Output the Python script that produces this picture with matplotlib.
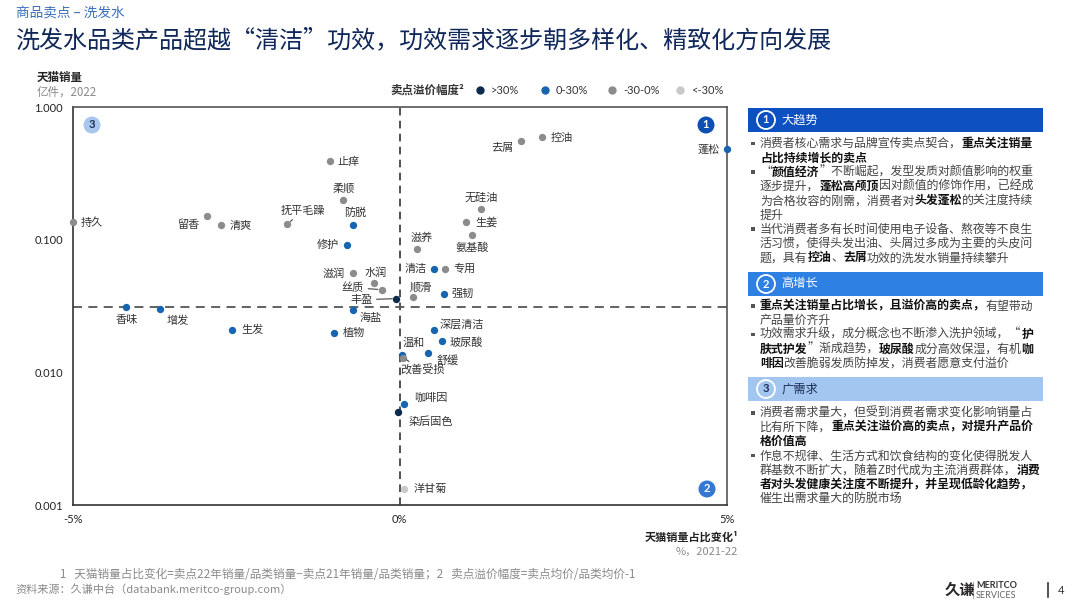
import matplotlib
matplotlib.use('Agg')
import matplotlib.pyplot as plt
import matplotlib.lines as mlines
from matplotlib.patches import Rectangle, Ellipse
from matplotlib.ticker import FixedLocator, FixedFormatter, NullLocator

plt.rcParams['font.family'] = ['Noto Sans CJK SC', 'DejaVu Sans']

# 卖点数据：天猫销量占比变化(%)、天猫销量(亿件, 2022)、溢价幅度分组
names = ['持久', '留香', '清爽', '抚平毛躁', '止痒', '柔顺', '防脱', '修护', '滋润', '水润',
         '丝质', '丰盈', '香味', '增发', '生发', '植物', '海盐', '顺滑', '强韧', '深层清洁',
         '玻尿酸', '舒缓', '温和', '改善受损', '咖啡因', '染后固色', '洋甘菊', '去屑', '控油',
         '蓬松', '无硅油', '生姜', '氨基酸', '滋养', '清洁', '专用']
share_change = [-5.0, -2.94, -2.73, -1.72, -1.07, -0.86, -0.71, -0.80, -0.71, -0.39,
                -0.27, -0.05, -4.18, -3.66, -2.56, -1.00, -0.71, 0.21, 0.67, 0.52,
                0.64, 0.43, 0.03, 0.05, 0.07, -0.02, 0.07, 1.85, 2.18,
                5.0, 1.25, 1.02, 1.11, 0.27, 0.52, 0.70]
sales = [0.136, 0.152, 0.130, 0.132, 0.394, 0.200, 0.130, 0.0917, 0.0564, 0.0471,
         0.0422, 0.0361, 0.0314, 0.0300, 0.0209, 0.0198, 0.0297, 0.0370, 0.0394, 0.0208,
         0.0172, 0.0141, 0.0136, 0.0130, 0.00577, 0.00505, 0.00133, 0.560, 0.600,
         0.485, 0.170, 0.137, 0.109, 0.0855, 0.0607, 0.0607]
# 0: >30%, 1: 0-30%, 2: -30-0%, 3: <-30%
premium_group = [2, 2, 2, 2, 2, 2, 1, 1, 2, 2,
                 2, 0, 1, 1, 1, 1, 1, 2, 1, 1,
                 1, 1, 1, 2, 1, 0, 3, 2, 2,
                 1, 2, 2, 2, 2, 1, 2]
group_labels = ['>30%', '0-30%', '-30-0%', '<-30%']
group_colors = ['#0c2a4d', '#1764b0', '#8c8c8c', '#c8c8c8']

h_line = 0.0314  # 水平参考线

x_ticks = [-5, 0, 5]
x_tick_labels = ['-5%', '0%', '5%']
y_ticks = [0.001, 0.01, 0.1, 1.0]
y_tick_labels = ['0.001', '0.010', '0.100', '1.000']

# 标签偏移 (像素) 和对齐方式，带引线的标签
label_pos = {
    '持久': (8, 0, 'left'), '留香': (-8, -9, 'right'), '清爽': (8, -1, 'left'),
    '抚平毛躁': (16, 13, 'center'), '止痒': (8, -1, 'left'), '柔顺': (0, 12, 'center'),
    '防脱': (2, 12, 'center'), '修护': (-8, 0, 'right'), '滋润': (-8, -1, 'right'),
    '水润': (2, 11, 'center'), '丝质': (-18, 2, 'right'), '丰盈': (-24, -1, 'right'),
    '香味': (0, -13, 'center'), '增发': (17, -11, 'center'), '生发': (9, 0, 'left'),
    '植物': (8, 0, 'left'), '海盐': (17, -8, 'center'), '顺滑': (7, 10, 'center'),
    '强韧': (8, 0, 'left'), '深层清洁': (6, 6, 'left'), '玻尿酸': (8, -1, 'left'),
    '舒缓': (9, -7, 'left'), '温和': (12, 12, 'center'), '改善受损': (20, -13, 'center'),
    '咖啡因': (10, 7, 'left'), '染后固色': (10, -10, 'left'), '洋甘菊': (9, 0, 'left'),
    '去屑': (-7, -7, 'right'), '控油': (8, -1, 'left'), '蓬松': (-7, -1, 'right'),
    '无硅油': (0, 12, 'center'), '生姜': (9, -1, 'left'), '氨基酸': (0, -13, 'center'),
    '滋养': (4, 11, 'center'), '清洁': (-7, 0, 'right'), '专用': (8, 0, 'left'),
}
leader = ['抚平毛躁', '丝质', '丰盈', '改善受损']

W, H = 1080, 607
fig = plt.figure(figsize=(W / 100, H / 100), dpi=100)


def fx(x):
    return x / W


def fy(y):
    return 1 - y / H


ax = fig.add_axes([fx(72.7), fy(505.3), fx(726.7) - fx(72.7), fy(107.3) - fy(505.3)])
ax.set_yscale('log')
ax.set_xlim(-5, 5)
ax.set_ylim(0.001, 1.0)

for i, n in enumerate(names):
    g = premium_group[i]
    ax.scatter(share_change[i], sales[i], s=28, color=group_colors[g], zorder=4,
               clip_on=False, linewidths=0)
    dx, dy, ha = label_pos[n]
    arrow = None
    if n in leader:
        arrow = dict(arrowstyle='-', color='#444444', lw=0.8, shrinkA=1, shrinkB=3)
    ax.annotate(n, (share_change[i], sales[i]), xytext=(dx, dy), textcoords='offset pixels',
                ha=ha, va='center', fontsize=8, color='#333333', arrowprops=arrow, zorder=5)

ax.axvline(0, color='#222222', lw=1.1, ls=(0, (5, 3.5)), zorder=2)
ax.axhline(h_line, color='#555555', lw=1.3, ls=(0, (5, 3.5)), zorder=2)

for sp in ax.spines.values():
    sp.set_color('#555555')
    sp.set_linewidth(1.2)
ax.spines['left'].set_color('#333333')
ax.spines['bottom'].set_color('#333333')

ax.xaxis.set_major_locator(FixedLocator(x_ticks))
ax.xaxis.set_major_formatter(FixedFormatter(x_tick_labels))
ax.yaxis.set_major_locator(FixedLocator(y_ticks))
ax.yaxis.set_major_formatter(FixedFormatter(y_tick_labels))
ax.yaxis.set_minor_locator(NullLocator())
ax.xaxis.set_minor_locator(NullLocator())
ax.tick_params(length=0, labelsize=8, colors='#222222')
ax.tick_params(axis='x', pad=6)
ax.tick_params(axis='y', pad=7)
for lab in ax.get_xticklabels() + ax.get_yticklabels():
    lab.set_family(['Lato', 'DejaVu Sans'])


def badge(x, y, num, face, tcolor, r=8.5):
    fig.patches.append(Ellipse((fx(x), fy(y)), 2 * r / W, 2 * r / H, transform=fig.transFigure,
                               facecolor=face, edgecolor='none', zorder=6))
    fig.text(fx(x), fy(y), num, ha='center', va='center', fontsize=8, fontweight='bold',
             color=tcolor, family=['Lato', 'DejaVu Sans'], zorder=7)


badge(92, 125, '3', '#a9c6ee', '#1c2f55')
badge(706, 125, '1', '#0d4fb3', 'white')
badge(707, 489, '2', '#3478d4', 'white')

# 标题
fig.text(fx(16), fy(13), '商品卖点 – 洗发水', fontsize=9.8, color='#3a6fbf', va='center')
fig.text(fx(15), fy(40), '洗发水品类产品超越“清洁”功效，功效需求逐步朝多样化、精致化方向发展',
         fontsize=17.3, color='#10275a', va='center')

fig.text(fx(37), fy(77), '天猫销量', fontsize=8.3, fontweight='bold', color='#222222', va='center')
fig.text(fx(37), fy(92), '亿件，2022', fontsize=8.3, color='#8a8a8a', va='center')

fig.text(fx(738), fy(537), '天猫销量占比变化¹', fontsize=8, fontweight='bold', color='#222222',
         ha='right', va='center')
fig.text(fx(738), fy(552), '%，2021-22', fontsize=8, color='#8a8a8a', ha='right', va='center')

# 图例
fig.text(fx(390), fy(90), '卖点溢价幅度²', fontsize=8.3, fontweight='bold', color='#333333', va='center')
leg_x = [480, 545, 612, 680]
for k in range(4):
    fig.add_artist(mlines.Line2D([fx(leg_x[k])], [fy(90)], marker='o', markersize=5,
                                 color=group_colors[k], lw=0, transform=fig.transFigure))
    fig.text(fx(leg_x[k] + 11), fy(90), group_labels[k], fontsize=8, color='#333333', va='center',
             family=['Lato', 'DejaVu Sans'])

# 右侧说明
renderer = fig.canvas.get_renderer()


def runs_line(x, y, runs, size=8.6):
    for txt, bold in runs:
        t = fig.text(fx(x), fy(y), txt, fontsize=size, va='center',
                     fontweight='bold' if bold else 'normal',
                     color='#111111' if bold else '#444444')
        x += t.get_window_extent(renderer).width


def header(y0, y1, num, title, face, tcolor, ncolor):
    fig.patches.append(Rectangle((fx(748), fy(y1)), fx(1043) - fx(748), fy(y0) - fy(y1),
                                 transform=fig.transFigure, facecolor=face, edgecolor='none'))
    yc = (y0 + y1) / 2
    fig.patches.append(Ellipse((fx(766), fy(yc)), 18 / W, 18 / H, transform=fig.transFigure,
                               facecolor='none', edgecolor='white', lw=1.3))
    fig.text(fx(766), fy(yc), num, ha='center', va='center', fontsize=8, color=ncolor,
             fontweight='bold', family=['Lato', 'DejaVu Sans'])
    fig.text(fx(781), fy(yc), title, va='center', fontsize=8.8, color=tcolor)


def bullet(y):
    fig.patches.append(Rectangle((fx(751), fy(y + 1.5)), 3.5 / W, 3.5 / H, transform=fig.transFigure,
                                 facecolor='#555555', edgecolor='none'))


header(108, 132, '1', '大趋势', '#0d50c2', 'white', 'white')
header(272, 296, '2', '高增长', '#2f80e3', 'white', 'white')
header(377, 401, '3', '广需求', '#a3c6f1', '#1c2f55', '#1c2f55')

tx = 760
sec1 = [
    (True, [('消费者核心需求与品牌宣传卖点契合，', False), ('重点关注销量', True)]),
    (False, [('占比持续增长的卖点', True)]),
    (True, [('“', False), ('颜值经济', True), ('”不断崛起，发型发质对颜值影响的权重', False)]),
    (False, [('逐步提升，', False), ('蓬松高颅顶', True), ('因对颜值的修饰作用，已经成', False)]),
    (False, [('为合格妆容的刚需，消费者对', False), ('头发蓬松', True), ('的关注度持续', False)]),
    (False, [('提升', False)]),
    (True, [('当代消费者多有长时间使用电子设备、熬夜等不良生', False)]),
    (False, [('活习惯，使得头发出油、头屑过多成为主要的头皮问', False)]),
    (False, [('题，具有', False), ('控油', True), ('、', False), ('去屑', True), ('功效的洗发水销量持续攀升', False)]),
]
sec2 = [
    (True, [('重点关注销量占比增长，且溢价高的卖点，', True), ('有望带动', False)]),
    (False, [('产品量价齐升', False)]),
    (True, [('功效需求升级，成分概念也不断渗入洗护领域，“', False), ('护', True)]),
    (False, [('肤式护发', True), ('”渐成趋势，', False), ('玻尿酸', True), ('成分高效保湿，有机', False), ('咖', True)]),
    (False, [('啡因', True), ('改善脆弱发质防掉发，消费者愿意支付溢价', False)]),
]
sec3 = [
    (True, [('消费者需求量大，但受到消费者需求变化影响销量占', False)]),
    (False, [('比有所下降，', False), ('重点关注溢价高的卖点，对提升产品价', True)]),
    (False, [('格价值高', True)]),
    (True, [('作息不规律、生活方式和饮食结构的变化使得脱发人', False)]),
    (False, [('群基数不断扩大，随着Z时代成为主流消费群体，', False), ('消费', True)]),
    (False, [('者对头发健康关注度不断提升，并呈现低龄化趋势，', True)]),
    (False, [('催生出需求量大的防脱市场', False)]),
]
for sec, y_start in [(sec1, 143.5), (sec2, 306), (sec3, 413)]:
    for j, (has_bullet, runs) in enumerate(sec):
        y = y_start + j * 14.3
        if has_bullet:
            bullet(y)
        runs_line(tx, y, runs)

# 脚注
fig.text(fx(60), fy(574), '1   天猫销量占比变化=卖点22年销量/品类销量−卖点21年销量/品类销量；2   卖点溢价幅度=卖点均价/品类均价-1',
         fontsize=8.4, color='#8a8a8a', va='center')
fig.text(fx(15), fy(589), '资料来源：久谦中台（databank.meritco-group.com）', fontsize=8,
         color='#8a8a8a', va='center')

# 标志
fig.text(fx(945), fy(590), '久谦', fontsize=11, fontweight='bold', color='#2a2a2a', va='center')
fig.add_artist(mlines.Line2D([fx(973), fx(973)], [fy(582), fy(598)], color='#c9a0a8', lw=0.8,
                             transform=fig.transFigure))
fig.text(fx(976), fy(585), 'MERITCO', fontsize=6.5, fontweight='bold', color='#333333', va='center',
         family=['Lato', 'DejaVu Sans'])
fig.text(fx(976), fy(595), 'SERVICES', fontsize=6.5, color='#666666', va='center',
         family=['Lato', 'DejaVu Sans'])
fig.add_artist(mlines.Line2D([fx(1048), fx(1048)], [fy(583), fy(597)], color='#333333', lw=1.2,
                             transform=fig.transFigure))
fig.text(fx(1058), fy(590), '4', fontsize=8, color='#333333', va='center', family=['Lato', 'DejaVu Sans'])

fig.savefig('out.png', dpi=100)
